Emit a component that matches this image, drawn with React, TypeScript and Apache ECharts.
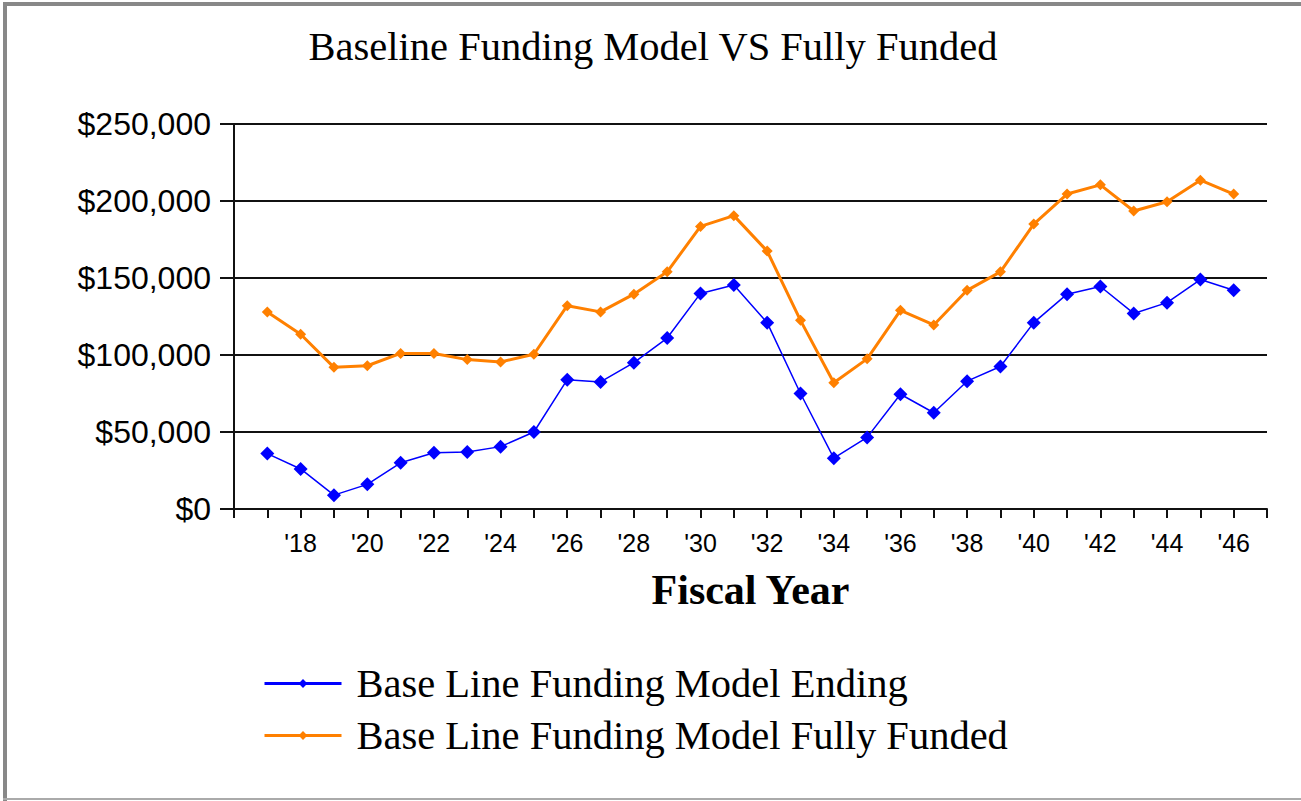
import React, { useEffect, useRef } from "react";
import * as echarts from "echarts";

const years = [
  2017, 2018, 2019, 2020, 2021, 2022, 2023, 2024, 2025, 2026,
  2027, 2028, 2029, 2030, 2031, 2032, 2033, 2034, 2035, 2036,
  2037, 2038, 2039, 2040, 2041, 2042, 2043, 2044, 2045, 2046,
];

const endingValues = [
  36000, 26000, 9000, 16000, 30000, 36500, 37000, 40500, 50000, 84000,
  82500, 95000, 111000, 140000, 145500, 121000, 75000, 33000, 46500, 74500,
  62500, 83000, 92500, 121000, 139500, 144500, 127000, 134000, 149000, 142000,
];

const fullyFundedValues = [
  128000, 113500, 92000, 93000, 101000, 101000, 97000, 95500, 100500, 132000,
  128000, 139500, 154000, 183500, 190500, 167500, 122500, 82000, 97500, 129000,
  119500, 142000, 154000, 185000, 204500, 210500, 193500, 199500, 213500, 204500,
];

const seriesNames = [
  "Base Line Funding Model Ending",
  "Base Line Funding Model Fully Funded",
];

const titleText = "Baseline Funding Model VS Fully Funded";
const xAxisName = "Fiscal Year";
const yTicks = [0, 50000, 100000, 150000, 200000, 250000];

export default function App() {
  const ref = useRef<HTMLDivElement>(null);

  useEffect(() => {
    if (!ref.current) return;
    const chart = echarts.init(ref.current, null, { renderer: "svg" });
    const serif = "'Liberation Serif', 'Times New Roman', serif";
    const sans = "'Liberation Sans', Arial, sans-serif";

    chart.setOption({
      animation: false,
      backgroundColor: "#ffffff",
      title: {
        text: titleText,
        left: 653,
        textAlign: "center",
        top: 26,
        padding: 0,
        textStyle: {
          fontFamily: serif,
          fontSize: 40.5,
          fontWeight: "normal",
          color: "#000",
          lineHeight: 40,
        },
      },
      graphic: [
        { type: "rect", shape: { x: 3, y: 2, width: 4, height: 799 }, style: { fill: "#888" }, silent: true },
        { type: "rect", shape: { x: 3, y: 2, width: 1298, height: 4 }, style: { fill: "#888" }, silent: true },
        { type: "rect", shape: { x: 3, y: 798, width: 1298, height: 2 }, style: { fill: "#aaa" }, silent: true },
      ],
      legend: {
        orient: "vertical",
        left: 263,
        top: 663,
        padding: 0,
        itemGap: 11,
        itemWidth: 77,
        itemHeight: 11,
        lineStyle: { width: 3 },
        textStyle: {
          fontFamily: serif,
          fontSize: 40.5,
          color: "#000",
          lineHeight: 40,
          padding: [0, 0, 0, 10],
        },
        data: seriesNames,
      },
      grid: {
        left: 234,
        right: 34,
        top: 124,
        bottom: 292,
        containLabel: false,
      },
      xAxis: {
        type: "value",
        min: 2016,
        max: 2047,
        interval: 1,
        name: xAxisName,
        nameLocation: "middle",
        nameGap: 60,
        nameTextStyle: {
          fontFamily: serif,
          fontSize: 42,
          fontWeight: "bold",
          color: "#000",
          lineHeight: 42,
        },
        axisLine: { show: true, lineStyle: { color: "#111", width: 2 } },
        axisTick: { show: true, inside: false, length: 9, lineStyle: { color: "#111", width: 2 } },
        splitLine: { show: false },
        axisLabel: {
          margin: 21,
          fontFamily: sans,
          fontSize: 25,
          color: "#000",
          lineHeight: 25,
          formatter: (v: number) =>
            v % 2 === 0 && v >= years[1] && v <= years[years.length - 1]
              ? "'" + String(v).slice(2)
              : "",
        },
      },
      yAxis: {
        type: "value",
        min: yTicks[0],
        max: yTicks[yTicks.length - 1],
        interval: yTicks[1] - yTicks[0],
        axisLine: { show: true, lineStyle: { color: "#111", width: 2 } },
        axisTick: { show: true, inside: false, length: 14, lineStyle: { color: "#111", width: 2 } },
        splitLine: { show: true, lineStyle: { color: "#111", width: 2 } },
        axisLabel: {
          margin: 23,
          fontFamily: sans,
          fontSize: 32,
          color: "#000",
          formatter: (v: number) => "$" + v.toLocaleString("en-US"),
        },
      },
      series: [
        {
          name: seriesNames[0],
          type: "line",
          data: years.map((y, i) => [y, endingValues[i]]),
          symbol: "diamond",
          symbolSize: 14,
          showSymbol: true,
          color: "#0000ff",
          itemStyle: { color: "#0000ff" },
          lineStyle: { color: "#0000ff", width: 1.5 },
          z: 3,
        },
        {
          name: seriesNames[1],
          type: "line",
          data: years.map((y, i) => [y, fullyFundedValues[i]]),
          symbol: "diamond",
          symbolSize: 11,
          showSymbol: true,
          color: "#ff8000",
          itemStyle: { color: "#ff8000" },
          lineStyle: { color: "#ff8000", width: 3 },
          z: 2,
        },
      ],
    });

    return () => chart.dispose();
  }, []);

  return (
    <div
      ref={ref}
      style={{ position: "fixed", left: 0, top: 0, width: 1301, height: 801 }}
    />
  );
}
